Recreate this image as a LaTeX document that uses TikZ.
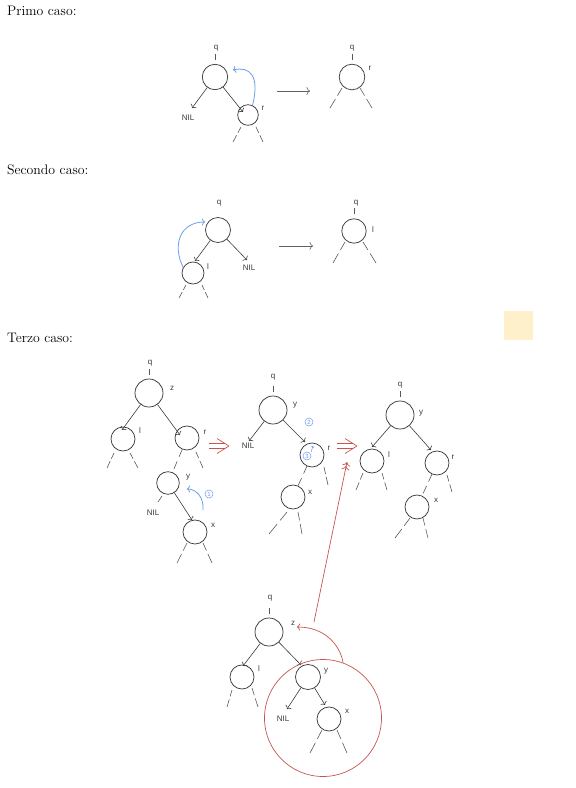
\documentclass[tikz,border=0pt]{standalone}
\usepackage{fontspec}
\newfontfamily\labf{Liberation Sans}
\usetikzlibrary{arrows.meta,calc}
\definecolor{bl}{HTML}{6A9EE8}
\definecolor{rd}{HTML}{C4564E}
\definecolor{yl}{HTML}{FDF0CB}
\definecolor{ln}{HTML}{3A3A3A}
\newcommand\stub[3]{\path ($(#1)+(#2)$) coordinate (stS) ++(#3) coordinate (stE);
  \draw[tk] (stS) -- ($(stS)!0.38!(stE)$) ($(stS)!0.55!(stE)$) -- (stE);}
\newcommand\dblarrow[2]{%
  \draw[rdl] ($(#1)+(0,-2.5)$) -- ($(#2)+(-4,-2.5)$);
  \draw[rdl] ($(#1)+(0,2.5)$) -- ($(#2)+(-4,2.5)$);
  \draw[rdl,line join=round] ($(#2)+(-12,-7.5)$) .. controls ($(#2)+(-6,-4)$) .. (#2) .. controls ($(#2)+(-6,4)$) .. ($(#2)+(-12,7.5)$);}
\begin{document}
\begin{tikzpicture}[x=1pt,y=-1pt,
  nd/.style={circle,draw=ln,line width=0.75pt,inner sep=0pt,minimum size=#1},
  nd/.default=24pt,
  lb/.style={font=\labf\fontsize{8}{9}\selectfont,text=ln,inner sep=0pt},
  ttl/.style={font=\fontsize{13.8}{16}\selectfont,anchor=base west,inner sep=0pt},
  ed0/.style={draw=ln,line width=0.6pt,-{To[length=3pt,width=7pt]}},
  stbn/.style={draw=ln!85,line width=0.6pt,dash pattern=on 8pt off 5pt},
  tk/.style={draw=ln!85,line width=0.6pt},
  longar/.style={draw=ln!80,line width=0.6pt,-{To[length=3.5pt,width=8pt]}},
  ba/.style={draw=bl,line width=0.8pt,-{To[length=3pt,width=7pt]}},
  cn/.style={circle,draw=bl,text=bl,line width=0.5pt,inner sep=0pt,minimum size=8pt,font=\labf\fontsize{6}{6}\selectfont},
  rdl/.style={draw=rd,line width=0.7pt},
  ra/.style={draw=rd,line width=0.7pt,-{To[length=3pt,width=7pt]}},
  rimp/.style={draw=rd,line width=0.7pt,-{To[length=4pt,width=8pt]To[length=4pt,width=8pt]}}
]
\useasboundingbox (0,0) rectangle (576,788);
% titles
\node[ttl] (t1) at (7,15) {Primo caso:};
\node[ttl] (t2) at (7,174) {Secondo caso:};
\node[ttl] (t3) at (7,342) {Terzo caso:};
\node[fill=yl,minimum size=29pt,inner sep=0pt] (sq) at (518.5,325.5) {};

% ---------- case 1
\node[nd=25.4pt] (q1) at (215,77) {};
\node[lb] (q1q) at (216,48) {q};
\draw[tk] ([yshift=4pt]q1.north) -- ++(0,-6);
\node[lb] (n1) at (188,118) {NIL};
\node[nd=20.6pt] (r1) at (248,115) {};
\node[lb] (r1r) at (263,108) {r};
\draw[ed0] (q1) -- ($(n1.north)+(4,-7)$);
\draw[ed0] (q1) -- ($(r1)+(-5,-3)$);
\stub{r1}{-7,12}{-8,15}
\stub{r1}{8,12}{7,15}
\draw[ba] (r1.65) .. controls (260,76) and (250,66) .. (233,70);
\coordinate (a1s) at (277,91);
\coordinate (a1e) at (310,91);
\draw[longar] (a1s) -- (a1e);
\node[nd=25.6pt] (q1b) at (352,77) {};
\node[lb] (q1bq) at (352,48) {q};
\draw[tk] ([yshift=4pt]q1b.north) -- ++(0,-6);
\node[lb] (q1br) at (370,68) {r};
\stub{q1b}{-10,11}{-12,20}
\stub{q1b}{8,11}{12,20}

% ---------- case 2
\node[nd=25pt] (q2) at (218,230) {};
\node[lb] (q2q) at (219,203) {q};
\node[nd=22pt] (l2) at (193,273) {};
\node[lb] (l2l) at (208,267) {l};
\node[lb] (n2) at (249,268) {NIL};
\draw[ed0] (q2) -- ($(l2)+(2,-12)$);
\draw[ed0] (q2) -- ($(n2.north)+(-2,-5)$);
\stub{l2}{-7,12}{-7,13}
\stub{l2}{9,12}{6,13}
\draw[ba] (l2.150) .. controls (172,245) and (180,222) .. (205,222);
\coordinate (a2s) at (279,246);
\coordinate (a2e) at (313,246);
\draw[longar] (a2s) -- (a2e);
\node[nd=24.4pt] (q2b) at (354,231) {};
\node[lb] (q2bq) at (356,203) {q};
\draw[tk] ([yshift=4pt]q2b.north) -- ++(0,-6);
\node[lb] (q2bl) at (373,230) {l};
\stub{q2b}{-9,11}{-12,21}
\stub{q2b}{9,11}{13,21}

% ---------- case 3, tree A
\node[nd=28pt] (zA) at (149,393) {};
\node[lb] (zAq) at (150,363) {q};
\draw[tk] ([yshift=4pt]zA.north) -- ++(0,-6);
\node[lb] (zAz) at (172,388) {z};
\node[nd=24pt] (lA) at (123,439) {};
\node[lb] (lAl) at (140,431) {l};
\node[nd=24pt] (rA) at (187,438) {};
\node[lb] (rAr) at (205,432) {r};
\draw[ed0] (zA) -- ($(lA)+(-1,-9)$);
\draw[ed0] (zA) -- ($(rA)+(-7,-3)$);
\stub{lA}{-9,14}{-7,15}
\stub{lA}{7,14}{8,15}
\stub{rA}{9,14}{7,16}
\node[nd=22.6pt] (yA) at (168,483) {};
\node[lb] (yAy) at (188,477) {y};
\draw[stbn] (rA) -- (yA);
\node[lb] (nA) at (153,513) {NIL};
\draw[tk] ($(yA)+(-6,13)$) -- ++(-4,6);
\node[nd=24pt] (xA) at (195,532) {};
\node[lb] (xAx) at (213,525) {x};
\draw[ed0] (yA) -- ($(xA)+(-3,-12)$);
\stub{xA}{-8,11}{-10,20}
\stub{xA}{8,11}{9,20}
\draw[ba] (203,510) .. controls (204,497) and (196,489) .. (187,489);
\node[cn] (c1) at (209,494) {1};
\coordinate (d1s) at (209,446);
\coordinate (d1e) at (229,446);
\dblarrow{d1s}{d1e}

% ---------- tree B
\node[nd=28pt] (yB) at (273,410) {};
\node[lb] (yBq) at (273,377) {q};
\draw[tk] ([yshift=4pt]yB.north) -- ++(0,-6);
\node[lb] (yBy) at (295,405) {y};
\node[lb] (nB) at (248,446) {NIL};
\draw[ed0] (yB) -- ($(nB.north)+(1,-2)$);
\node[nd=24pt] (rB) at (312,455) {};
\node[lb] (rBr) at (329,448) {r};
\draw[ed0] (yB) -- ($(rB)+(-7,-13)$);
\node[cn] (c2) at (309,422) {2};
\node[cn] (c3) at (307,456) {3};
\draw[draw=bl,line width=0.5pt,-{To[length=1.5pt,width=3pt]}] (311,452) -- (313,446);
\stub{rB}{12,12}{4,18}
\node[nd=24pt] (xB) at (293,497) {};
\node[lb] (xBx) at (310,492) {x};
\draw[stbn] (rB) -- (xB);
\stub{xB}{-6,15}{-18,22}
\stub{xB}{5,15}{4,22}
\coordinate (d2s) at (337,446);
\coordinate (d2e) at (357,446);
\dblarrow{d2s}{d2e}

% ---------- tree C
\node[nd=28pt] (yC) at (400,415) {};
\node[lb] (yCq) at (400,385) {q};
\draw[tk] ([yshift=4pt]yC.north) -- ++(0,-6);
\node[lb] (yCy) at (421,413) {y};
\node[nd=24pt] (lC) at (372,461) {};
\node[lb] (lCl) at (389,455) {l};
\node[nd=24pt] (rC) at (437,463) {};
\node[lb] (rCr) at (453,457) {r};
\draw[ed0] (yC) -- ($(lC)+(0,-14)$);
\draw[ed0] (yC) -- ($(rC)+(-6,-13)$);
\stub{lC}{-9,12}{-7,17}
\stub{lC}{10,12}{5,17}
\stub{rC}{10,12}{5,17}
\node[nd=24pt] (xC) at (417,507) {};
\node[lb] (xCx) at (436,500) {x};
\draw[stbn] (rC) -- (xC);
\stub{xC}{-7,11}{-15,20}
\stub{xC}{6,11}{5,20}

% ---------- tree D
\node[nd=28pt] (zD) at (269,632) {};
\node[lb] (zDq) at (270,598) {q};
\draw[tk] ([yshift=4pt]zD.north) -- ++(0,-6);
\node[lb] (zDz) at (293,623) {z};
\node[nd=24pt] (lD) at (242,677) {};
\node[lb] (lDl) at (259,669) {l};
\node[nd=25pt] (yD) at (308,677) {};
\node[lb] (yDy) at (326,671) {y};
\draw[ed0] (zD) -- ($(lD)+(1,-11)$);
\draw[ed0] (zD) -- ($(yD)+(-7,-12)$);
\stub{lD}{-10,13}{-5,17}
\stub{lD}{10,11}{6,19}
\node[lb] (nD) at (283,719) {NIL};
\draw[ed0] (yD) -- ($(nD.north)+(4,-7)$);
\node[nd=24pt] (xD) at (329,719) {};
\node[lb] (xDx) at (347,711) {x};
\draw[ed0] (yD) -- ($(xD)+(-4,-14)$);
\stub{xD}{-7,11}{-12,23}
\stub{xD}{8,11}{10,23}
\node[circle,draw=rd,line width=0.7pt,minimum size=117pt,inner sep=0pt] (rc) at (323,718) {};
\coordinate (zt) at (297,627);
\draw[ra] (rc.70) .. controls (340,645) and (325,627) .. (zt);
\coordinate (ls) at (314,622);
\coordinate (le) at (347,462);
\draw[rimp] (ls) -- (le);
\end{tikzpicture}
\end{document}
